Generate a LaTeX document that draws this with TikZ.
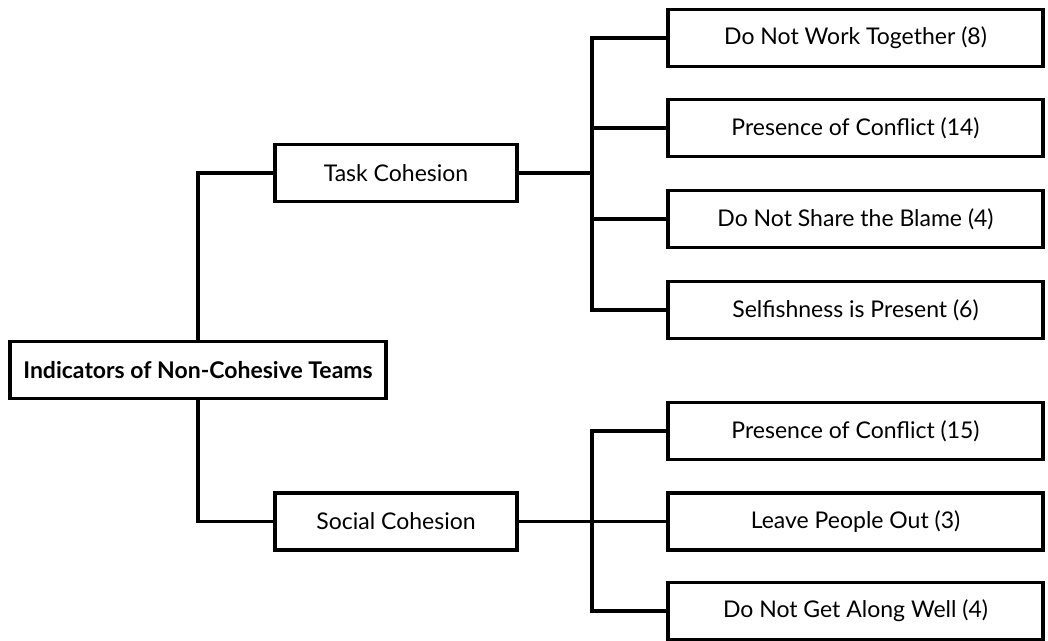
\documentclass[tikz,border=0pt]{standalone}
\usepackage{fontspec}
\setmainfont{Lato}
\usetikzlibrary{positioning}
\begin{document}
\begin{tikzpicture}[x=1pt, y=-1pt, line width=3.2pt,
    box/.style={draw, rectangle, minimum height=57pt, inner sep=0pt, font=\fontsize{23}{26}\selectfont},
    leaf/.style={box, minimum width=375pt},
    mid/.style={box, minimum width=242pt},
    top/.style={box, minimum width=376pt, font=\fontsize{23}{26}\selectfont\bfseries}]
            \useasboundingbox (0,0) rectangle (1048,640);
            \node[top] (root) at (198,370) {Indicators of Non-Cohesive Teams};
            \node[mid] (task) at (396,173) {Task Cohesion};
            \node[mid] (social) at (396,521.5) {Social Cohesion};
            \node[leaf] (t1) at (855.5,38) {Do Not Work Together (8)};
            \node[leaf] (t2) at (855.5,128) {Presence of Conflict (14)};
            \node[leaf] (t3) at (855.5,219) {Do Not Share the Blame (4)};
            \node[leaf] (t4) at (855.5,310) {Selfishness is Present (6)};
            \node[leaf] (s1) at (855.5,431) {Presence of Conflict (15)};
            \node[leaf] (s2) at (855.5,521.5) {Leave People Out (3)};
            \node[leaf] (s3) at (855.5,611) {Do Not Get Along Well (4)};
            \coordinate (tbus) at (592,173);
            \coordinate (sbus) at (592,521.5);
            \draw (root.north) |- (task.west);
            \draw (root.south) |- (social.west);
            \draw (task.east) -- (tbus);
            \draw (t1.west) -| (tbus |- t4.west) -- (t4.west);
            \draw (tbus |- t2.west) -- (t2.west);
            \draw (tbus |- t3.west) -- (t3.west);
            \draw (social.east) -- (sbus);
            \draw (s1.west) -| (sbus |- s3.west) -- (s3.west);
            \draw (sbus |- s2.west) -- (s2.west);
        \end{tikzpicture}
\end{document}
